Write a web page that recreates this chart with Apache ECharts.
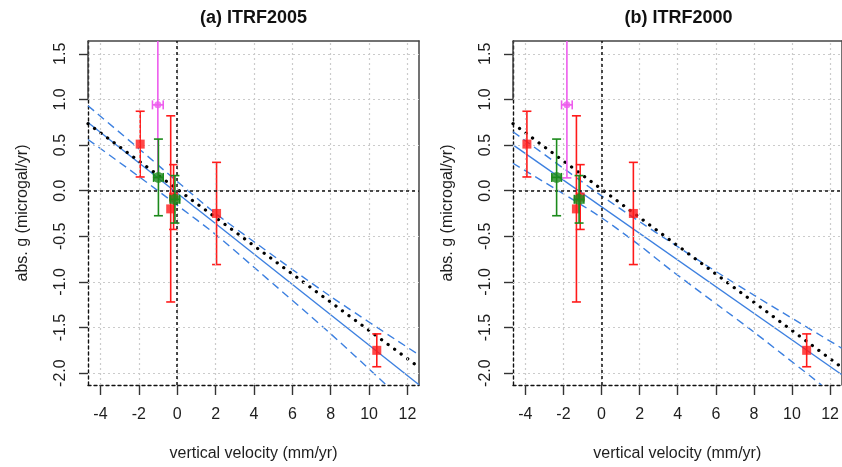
<!DOCTYPE html>
<html>
<head>
<meta charset="utf-8">
<script src="https://cdn.jsdelivr.net/npm/echarts@6/dist/echarts.min.js"></script>
<style>html,body{margin:0;padding:0;background:#fff}#c{width:842px;height:467px}</style>
</head>
<body>
<div id="c"></div>
<script>
// ---------- data ----------
const panelTitles = ['(a) ITRF2005', '(b) ITRF2000'];
const xTicks = [-4, -2, 0, 2, 4, 6, 8, 10, 12];
const yTicks = [-2.0, -1.5, -1.0, -0.5, 0.0, 0.5, 1.0, 1.5];
const xTitle = 'vertical velocity (mm/yr)';
const yTitle = 'abs. g (microgal/yr)';

// red stations (same gravity rates in both panels)
const redY    = [0.51, -0.20, -0.07, -0.25, -1.75];
const redYErr = [0.36, 1.02, 0.355, 0.56, 0.18];
const redX2005 = [-1.93, -0.34, -0.19, 2.05, 10.40];
const redX2000 = [-3.92, -1.32, -1.12, 1.67, 10.77];

// green stations
const greenY    = [0.145, -0.095];
const greenYErr = [0.42, 0.26];
const greenXErr = [0.25, 0.25];
const greenX2005 = [-0.98, -0.12];
const greenX2000 = [-2.36, -1.18];

// magenta station
const magY = [0.94];
const magYErr = [0.80];
const magXErr = [0.28];
const magX2005 = [-1.01];
const magX2000 = [-1.82];

// regression lines and dashed bands
const fit2005   = [[-4.65, 0.747], [12.6, -2.127]];
const upper2005 = [[-4.65, 0.93], [-2, 0.46], [0, 0.10], [2, -0.25], [4, -0.56], [8, -1.16], [12.6, -1.80]];
const lower2005 = [[-4.65, 0.56], [-2, 0.155], [0, -0.16], [2, -0.48], [4, -0.84], [8, -1.57], [10.9, -2.13]];
const fit2000   = [[-4.65, 0.501], [12.6, -2.015]];
const upper2000 = [[-4.65, 0.645], [-2, 0.245], [0, -0.057], [2, -0.34], [5.4, -0.805], [8, -1.145], [12.6, -1.725]];
const lower2000 = [[-4.65, 0.30], [-2, -0.035], [0, -0.297], [2, -0.60], [3.67, -0.875], [8, -1.55], [11.55, -2.13]];
// theoretical gradient (black dotted), same in both panels
const theory = [[-4.65, 0.735], [12.6, -1.935]];

// ---------- layout / style ----------
const X_MIN = -4.65, X_MAX = 12.6, Y_MIN = -2.13, Y_MAX = 1.64;
const FONT = 'Liberation Sans, Arial, sans-serif';
const TXT = '#1e1e1e';
const RED = '#ff1a1a', GREEN = '#1b8a1b', MAG = '#ee5cee', BLUE = '#3d80e0';
const panels = [
  { left: 88, title: panelTitles[0], fit: fit2005, up: upper2005, lo: lower2005,
    redX: redX2005, greenX: greenX2005, magX: magX2005 },
  { left: 513, title: panelTitles[1], fit: fit2000, up: upper2000, lo: lower2000,
    redX: redX2000, greenX: greenX2000, magX: magX2000 }
];
const TOP = 41, W = 331, H = 346;

const grid = [], xAxis = [], yAxis = [], series = [], graphic = [];

function errRender(color) {
  return function (params, api) {
    const x = api.value(0), y = api.value(1), ey = api.value(2), ex = api.value(3);
    const t = api.coord([x, y + ey]), b = api.coord([x, y - ey]);
    const c = 4.5;
    const st = { stroke: color, lineWidth: 1.6 };
    const kids = [
      { type: 'line', shape: { x1: t[0], y1: t[1], x2: b[0], y2: b[1] }, style: st },
      { type: 'line', shape: { x1: t[0] - c, y1: t[1], x2: t[0] + c, y2: t[1] }, style: st },
      { type: 'line', shape: { x1: b[0] - c, y1: b[1], x2: b[0] + c, y2: b[1] }, style: st }
    ];
    if (ex > 0) {
      const l = api.coord([x - ex, y]), r = api.coord([x + ex, y]);
      kids.push({ type: 'line', shape: { x1: l[0], y1: l[1], x2: r[0], y2: r[1] }, style: st });
      kids.push({ type: 'line', shape: { x1: l[0], y1: l[1] - c, x2: l[0], y2: l[1] + c }, style: st });
      kids.push({ type: 'line', shape: { x1: r[0], y1: r[1] - c, x2: r[0], y2: r[1] + c }, style: st });
    }
    return { type: 'group', children: kids };
  };
}

panels.forEach((p, i) => {
  grid.push({ left: p.left, top: TOP, width: W, height: H, show: false });
  xAxis.push({
    type: 'value', gridIndex: i, min: X_MIN, max: X_MAX, position: 'bottom',
    axisLine: { show: true, onZero: false, lineStyle: { color: '#111', width: 1.4, type: [3, 3] } },
    axisTick: { show: true, customValues: xTicks, length: 10, lineStyle: { color: '#333', width: 1.4 } },
    axisLabel: { customValues: xTicks, fontSize: 16, color: TXT, fontFamily: FONT, margin: 22,
      formatter: v => String(v) },
    splitLine: { show: false },
    name: xTitle, nameLocation: 'middle', nameGap: 61,
    nameTextStyle: { fontSize: 16, color: TXT, fontFamily: FONT }
  });
  xAxis.push({
    type: 'value', gridIndex: i, min: X_MIN, max: X_MAX, position: 'top',
    axisLine: { show: true, onZero: false, lineStyle: { color: '#444', width: 1.5 } },
    axisTick: { show: false }, axisLabel: { show: false }, splitLine: { show: false }
  });
  yAxis.push({
    type: 'value', gridIndex: i, min: Y_MIN, max: Y_MAX, position: 'left',
    axisLine: { show: true, onZero: false, lineStyle: { color: '#111', width: 1.4, type: [3, 3] } },
    axisTick: { show: true, customValues: yTicks, length: 9, lineStyle: { color: '#333', width: 1.4 } },
    axisLabel: { customValues: yTicks, rotate: 90, fontSize: 16, color: TXT, fontFamily: FONT, margin: 19,
      formatter: v => v.toFixed(1) },
    splitLine: { show: false },
    name: yTitle, nameLocation: 'middle', nameGap: 57,
    nameTextStyle: { fontSize: 16, color: TXT, fontFamily: FONT }
  });
  yAxis.push({
    type: 'value', gridIndex: i, min: Y_MIN, max: Y_MAX, position: 'right',
    axisLine: { show: true, onZero: false, lineStyle: { color: '#444', width: 1.5 } },
    axisTick: { show: false }, axisLabel: { show: false }, splitLine: { show: false }
  });

  const xa = 2 * i, ya = 2 * i;
  series.push({
    type: 'line', xAxisIndex: xa, yAxisIndex: ya, data: p.fit, silent: true,
    showSymbol: false, lineStyle: { opacity: 0 }, z: 1,
    markLine: {
      silent: true, symbol: 'none', label: { show: false }, animation: false,
      lineStyle: { color: '#cbcbcb', type: [2, 3], width: 1.2 },
      data: xTicks.map(v => ({ xAxis: v })).concat(yTicks.map(v => ({ yAxis: v })))
    }
  });
  series.push({ type: 'line', xAxisIndex: xa, yAxisIndex: ya, data: p.fit, showSymbol: false, silent: true,
    lineStyle: { color: BLUE, width: 1.4 }, z: 2, clip: true });
  series.push({ type: 'line', xAxisIndex: xa, yAxisIndex: ya, data: p.up, showSymbol: false, silent: true,
    smooth: 0.3, lineStyle: { color: BLUE, width: 1.4, type: [8, 5] }, z: 2, clip: true });
  series.push({ type: 'line', xAxisIndex: xa, yAxisIndex: ya, data: p.lo, showSymbol: false, silent: true,
    smooth: 0.3, lineStyle: { color: BLUE, width: 1.4, type: [8, 5] }, z: 2, clip: true });
  series.push({ type: 'line', xAxisIndex: xa, yAxisIndex: ya, data: theory, showSymbol: false, silent: true,
    lineStyle: { color: '#000', width: 3.2, type: [0.1, 8], cap: 'round' }, z: 3, clip: true,
    markLine: {
      silent: true, symbol: 'none', label: { show: false }, animation: false,
      lineStyle: { color: '#111', type: [3, 3], width: 1.5 },
      data: [{ xAxis: 0 }, { yAxis: 0 },
        [{ coord: [X_MIN, 1.0], lineStyle: { color: '#444', type: 'solid', width: 1.5 } }, { coord: [X_MIN, Y_MAX] }]]
    }
  });
  const redErr = p.redX.map((x, k) => [x, redY[k], redYErr[k], 0]);
  const magErr = p.magX.map((x, k) => [x, magY[k], magYErr[k], magXErr[k]]);
  const greenErr = p.greenX.map((x, k) => [x, greenY[k], greenYErr[k], greenXErr[k]]);
  series.push({ type: 'custom', xAxisIndex: xa, yAxisIndex: ya, data: redErr, renderItem: errRender(RED), clip: true, z: 4, silent: true });
  series.push({ type: 'scatter', xAxisIndex: xa, yAxisIndex: ya, data: p.redX.map((x, k) => [x, redY[k]]),
    symbol: 'rect', symbolSize: 9, itemStyle: { color: RED }, z: 5, silent: true });
  series.push({ type: 'custom', xAxisIndex: xa, yAxisIndex: ya, data: magErr, renderItem: errRender(MAG), clip: true, z: 6, silent: true });
  series.push({ type: 'scatter', xAxisIndex: xa, yAxisIndex: ya, data: p.magX.map((x, k) => [x, magY[k]]),
    symbol: 'circle', symbolSize: 7, itemStyle: { color: MAG }, z: 7, silent: true });
  series.push({ type: 'custom', xAxisIndex: xa, yAxisIndex: ya, data: greenErr, renderItem: errRender(GREEN), clip: true, z: 8, silent: true });
  series.push({ type: 'scatter', xAxisIndex: xa, yAxisIndex: ya, data: p.greenX.map((x, k) => [x, greenY[k]]),
    symbol: 'circle', symbolSize: 11, itemStyle: { color: GREEN }, z: 9, silent: true });

  graphic.push({ type: 'text', x: p.left + W / 2, y: 18,
    style: { text: p.title, font: 'bold 18px ' + FONT, fill: '#111', textAlign: 'center', textVerticalAlign: 'middle' } });
});

const chart = echarts.init(document.getElementById('c'), null, { renderer: 'canvas' });
chart.setOption({ animation: false, backgroundColor: '#fff', grid, xAxis, yAxis, series, graphic });
</script>
</body>
</html>
